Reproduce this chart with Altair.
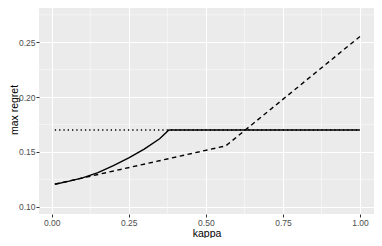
import altair as alt
import pandas as pd

# Data
kappa_solid = [0.01, 0.05, 0.10, 0.15, 0.20, 0.25, 0.30, 0.35, 0.38, 1.00]
regret_solid = [0.1205, 0.1228, 0.1263, 0.1310, 0.1375, 0.1445, 0.1525, 0.1620, 0.1700, 0.1700]
kappa_dashed = [0.01, 0.565, 1.00]
regret_dashed = [0.1205, 0.1555, 0.2553]
kappa_dotted = [0.01, 1.00]
regret_dotted = [0.170, 0.170]

x_ticks = [0.0, 0.25, 0.5, 0.75, 1.0]
y_ticks = [0.10, 0.15, 0.20, 0.25]
x_minor = [0.125, 0.375, 0.625, 0.875]
y_minor = [0.125, 0.175, 0.225, 0.275]

FONT = "Liberation Sans"

xs = alt.Scale(domain=[-0.0413, 1.0455], nice=False, zero=False)
ys = alt.Scale(domain=[0.0933, 0.284], nice=False, zero=False)
xaxis = alt.Axis(values=x_ticks, format=".2f", title="kappa",
                 titleY=22, titleBaseline="alphabetic")
yaxis = alt.Axis(values=y_ticks, format=".2f", title="max regret",
                 titleX=-25, titleBaseline="middle", titleAlign="center")

df_solid = pd.DataFrame({"kappa": kappa_solid, "regret": regret_solid})
df_dashed = pd.DataFrame({"kappa": kappa_dashed, "regret": regret_dashed})
df_dotted = pd.DataFrame({"kappa": kappa_dotted, "regret": regret_dotted})
df_xm = pd.DataFrame({"kappa": x_minor})
df_ym = pd.DataFrame({"regret": y_minor})

xm = alt.Chart(df_xm).mark_rule(color="white", strokeWidth=0.5).encode(
    x=alt.X("kappa:Q", scale=xs, axis=xaxis)
)
ym = alt.Chart(df_ym).mark_rule(color="white", strokeWidth=0.5).encode(
    y=alt.Y("regret:Q", scale=ys, axis=yaxis)
)


def line(df, dash):
    kw = {}
    if dash:
        kw["strokeDash"] = dash
    return alt.Chart(df).mark_line(color="black", strokeWidth=1.4, **kw).encode(
        x=alt.X("kappa:Q", scale=xs, axis=xaxis),
        y=alt.Y("regret:Q", scale=ys, axis=yaxis),
    )


chart = alt.layer(
    xm, ym,
    line(df_dotted, [1.3, 3]),
    line(df_dashed, [4.5, 3.5]),
    line(df_solid, None),
).properties(
    width=335, height=209,
    autosize=alt.AutoSizeParams(type="none"),
    padding={"left": 31, "top": -3, "right": 0, "bottom": 24},
).configure_view(
    fill="#EBEBEB", strokeWidth=0
).configure_axis(
    domain=False, grid=True, gridColor="white", gridWidth=1.1,
    tickColor="#333333", tickSize=3, tickWidth=1,
    labelFont=FONT, labelFontSize=8.5, labelColor="#4D4D4D", labelPadding=1,
    titleFont=FONT, titleFontSize=10.5, titleFontWeight="normal", titleColor="black",
)

chart.save("out.html", embed_options={"renderer": "svg", "actions": False})
